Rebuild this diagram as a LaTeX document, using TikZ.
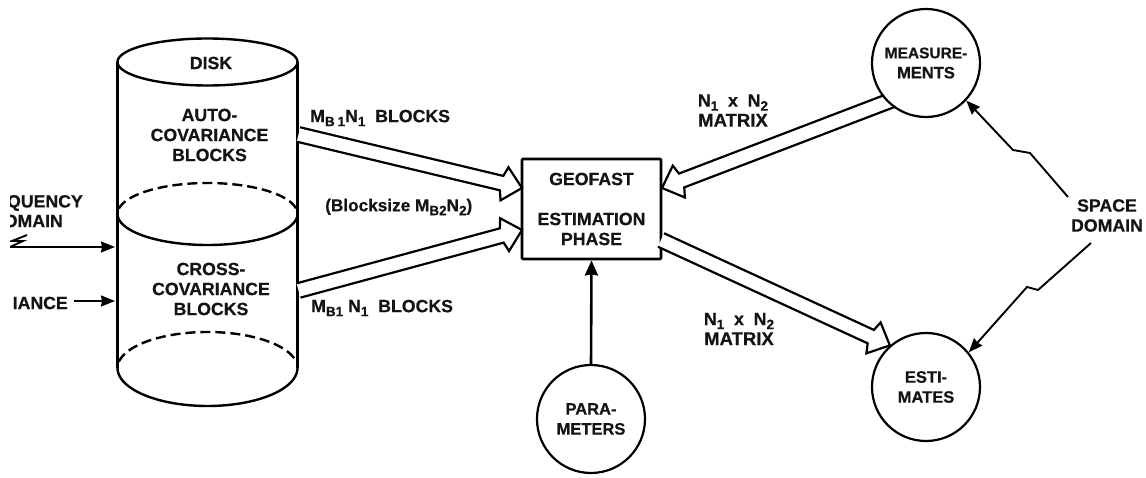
\documentclass[tikz,border=0pt]{standalone}
\usepackage{fontspec}
\setmainfont{Liberation Sans}[BoldFeatures={FakeBold=0.6}]
\usetikzlibrary{arrows.meta,calc,backgrounds}
\newcommand{\lsub}[1]{\raisebox{-4pt}{\fontsize{13.5}{13.5}\selectfont #1}}
\newcommand{\harrow}[2]{%
  \coordinate (hbase) at ($(#2)!21pt!(#1)$);
  \coordinate (hbarb) at ($(#2)!18pt!(#1)$);
  \draw[hollow] ($(#1)!7.4pt!90:(#2)$) -- ($(hbase)!7.4pt!90:(#2)$) -- ($(hbarb)!17pt!90:(#2)$)
     -- (#2) -- ($(hbarb)!17pt!-90:(#2)$) -- ($(hbase)!7.4pt!-90:(#2)$) -- ($(#1)!7.4pt!-90:(#2)$);
}
\tikzset{
  lbl/.style={font=\bfseries\fontsize{17.7}{20}\selectfont, align=center, inner sep=0pt, text=black!92},
  rndlbl/.style={font=\bfseries\fontsize{16.5}{20}\selectfont},
  rnd/.style={draw, circle, line width=2.2pt, minimum size=108pt, inner sep=0pt, fill=white, lbl, rndlbl},
  blk/.style={draw, rectangle, line width=2.8pt, minimum width=139pt, minimum height=100pt, inner sep=0pt, rounded corners=1pt, fill=white, lbl},
  cylside/.style={line width=3pt},
  cylrim/.style={line width=2.4pt},
  cylhid/.style={line width=2.4pt, dash pattern=on 10pt off 5pt},
  hollow/.style={line width=2.2pt, fill=white, line join=miter},
  thin/.style={line width=1.9pt, -{Stealth[length=14pt, width=11pt, inset=1pt]}},
  thick/.style={line width=2.6pt, -{Stealth[length=15pt, width=13pt, inset=1pt]}}
}
\begin{document}
\begin{tikzpicture}[x=1pt,y=-1pt]
\useasboundingbox (0,0) rectangle (1146,478);
% disk
\draw[cylside] (117.5,62) -- (117.5,368);
\draw[cylside] (297.5,62) -- (297.5,368);
\draw[cylrim,smooth,samples=90,domain=0:360] plot ({207.5+90*cos(\x)},{62+23.5*sin(\x)});
\draw[cylrim,smooth,samples=45,domain=0:180] plot ({207.5+90*cos(\x)},{214+31*sin(\x)});
\draw[cylhid,smooth,samples=45,domain=190:350] plot ({207.5+90*cos(\x)},{214+31*sin(\x)});
\draw[cylrim,smooth,samples=45,domain=0:180] plot ({207.5+90*cos(\x)},{368+38*sin(\x)});
\draw[cylhid,smooth,samples=45,domain=190:350] plot ({207.5+90*cos(\x)},{368+36*sin(\x)});
\node[lbl] (disk) at (211,63) {DISK};
\node[lbl] (auto) at (209.5,135) {AUTO-\\COVARIANCE\\BLOCKS};
\node[lbl] (cross) at (211,289) {CROSS-\\COVARIANCE\\BLOCKS};
% main nodes
\node[blk] (box) at (591.5,209) {GEOFAST\\[20pt]ESTIMATION\\PHASE};
\node[rnd] (meas) at (926,63) {{\fontsize{15.5}{20}\selectfont MEASURE-}\\MENTS};
\node[rnd] (esti) at (926,387) {ESTI-\\MATES};
\node[rnd] (para) at (591,419) {PARA-\\METERS};
\node[lbl] (space) at (1107,215.5) {SPACE\\DOMAIN};
% anchors
\coordinate (diskTop) at (298.5,134.5);
\coordinate (diskBot) at (298.5,290.5);
\coordinate (boxA) at (522,188);
\coordinate (boxB) at (522,230);
\coordinate (boxC) at (662,188);
\coordinate (boxD) at (661,240);
\coordinate (inA) at (115,247);
\coordinate (inB) at (115,301);
\coordinate (inBs) at (74,301);
% hollow arrows
\harrow{diskTop}{boxA}
\harrow{diskBot}{boxB}
\coordinate (measOut) at ($(meas.225)!-14pt!(boxC)$);
\begin{scope}[on background layer]
\harrow{measOut}{boxC}
\end{scope}
\harrow{boxD}{esti.131}
% thin arrows
\draw[thick] (para) ++(0,-54) -- (box.south);
\coordinate (sp1) at (1068,197);
\coordinate (sp2) at (1091,243);
\draw[thin] (sp1) -- (1030,153) -- (1013,150) -- (meas.-43);
\draw[thin] (sp2) -- (1038,290) -- (1027,287) -- (esti.39);
% clipped left labels
\begin{scope}
\clip (10,190) rectangle (120,320);
\node[lbl,anchor=east] (freq) at (83,203) {QUENCY};
\node[lbl,anchor=east] (dom) at (63,221) {OMAIN};
\node[lbl,anchor=east] (ance) at (68,303) {IANCE};
\coordinate (zz) at (10,247);
\draw[thin] (27,235) -- (12,241) -- (23,241) -- (zz) -- (inA);
\draw[thin] (inBs) -- (inB);
\end{scope}
% labels
\node[lbl,anchor=west] (l1) at (310,118) {M\lsub{B}\,\lsub{1}N\lsub{1}\ \ BLOCKS};
\node[lbl,anchor=west] (l2) at (311,308) {M\lsub{B1} N\lsub{1}\ \ BLOCKS};
\node[lbl,anchor=west,font=\bfseries\fontsize{17.2}{18}\selectfont] (l3) at (325,207) {(Blocksize M\lsub{B2}N\lsub{2})};
\node[lbl] (l4) at (733,110.5) {N\lsub{1}\ \ x\ \ N\lsub{2}\\{\fontsize{18.5}{20}\selectfont MATRIX}};
\node[lbl] (l5) at (739,329) {N\lsub{1}\ \ x\ \ N\lsub{2}\\{\fontsize{18.5}{20}\selectfont MATRIX}};
\end{tikzpicture}
\end{document}
